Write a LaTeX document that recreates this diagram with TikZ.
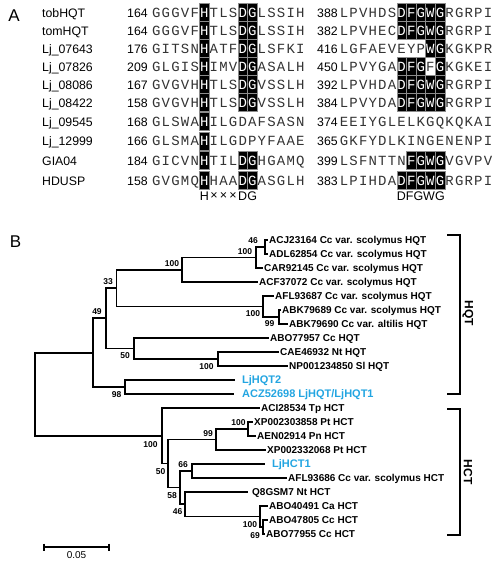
\documentclass[tikz,border=0pt]{standalone}
\usepackage{fontspec}
\setmainfont{Liberation Sans}
\newfontfamily\seqfont{Liberation Mono}
\definecolor{ljblue}{RGB}{35,165,225}
% sequence rows: lowercase letters are printed white on a black box
\newcommand\seqrow[3]{\def\sqx{#1}\def\sqy{#2}\def\sqi{0}\sqloop#3\relax}
\newcommand\sqloop[1]{\ifx#1\relax\else\ifnum`#1>96 \sqbox{#1}\else\sqput{#1}\fi\expandafter\sqloop\fi}
\newcommand\sqput[1]{\node[seqch] at ({\sqx+(\sqi+0.5)*9.6},{\sqy}) {#1};\pgfmathtruncatemacro\sqi{\sqi+1}}
\newcommand\sqbox[1]{\filldraw[boxst] ({\sqx+\sqi*9.6},{\sqy-14.25}) rectangle ({\sqx+(\sqi+1)*9.6},{\sqy+4});
  \node[seqch,text=white] at ({\sqx+(\sqi+0.5)*9.6},{\sqy}) {\uppercase{#1}};\pgfmathtruncatemacro\sqi{\sqi+1}}
\newcommand\arow[7]{%
  \node[nm] (nm#1) at (42,#2+4.5) {#3};
  \node[nm] (na#1) at (127,#2+4.5) {#4};
  \seqrow{151.5}{#2+4.5}{#5}
  \node[nm] (nb#1) at (317,#2+4.5) {#6};
  \seqrow{339.2}{#2+4.5}{#7}}
\begin{document}
\begin{tikzpicture}[x=1pt,y=-1pt,
  nm/.style={anchor=base west,inner sep=0pt,font=\fontsize{12.3}{14}\selectfont},
  seqch/.style={anchor=base,inner sep=0pt,font=\seqfont\fontsize{14}{16}\selectfont,text=black!80},
  boxst/.style={fill=black,draw=black!45,line width=0.3pt},
  motif/.style={inner sep=0pt,font=\fontsize{12.5}{14}\selectfont},
  panel/.style={inner sep=0pt,font=\fontsize{17}{19}\selectfont},
  branch/.style={line width=1.7pt},
  brk/.style={line width=1.2pt},
  boot/.style={inner sep=0pt,font=\bfseries\fontsize{8.5}{9}\selectfont},
  leaf/.style={anchor=west,inner ysep=0pt,inner xsep=1pt,text height=7.2pt,text depth=0pt,font=\bfseries\fontsize{10}{12}\selectfont},
  lj/.style={leaf,text=ljblue,text height=7.9pt,font=\bfseries\fontsize{11}{13}\selectfont},
  clade/.style={inner sep=0pt,rotate=-90,font=\bfseries\fontsize{12}{14}\selectfont}]
\useasboundingbox (0,0) rectangle (500,567);
% ---------------- Panel A ----------------
\node[panel] (pA) at (14,16) {A};
\arow{1}{13}{tobHQT}{164}{GGGVFhTLSdgLSSIH}{388}{LPVHDSdfgwgRGRPI}
\arow{2}{31}{tomHQT}{164}{GGGVFhTLSdgLSSIH}{382}{LPVHECdfgwgRGRPI}
\arow{3}{49}{Lj\_07643}{176}{GITSNhATFdgLSFKI}{416}{LGFAEVEYPwgKGKPR}
\arow{4}{67}{Lj\_07826}{209}{GLGIShIMVdgASALH}{450}{LPVYGAdfgFgKGKEI}
\arow{5}{85}{Lj\_08086}{167}{GVGVHhTLSdgVSSLH}{392}{LPVHDAdfgwgRGRPI}
\arow{6}{103}{Lj\_08422}{158}{GVGVHhTLSdgVSSLH}{384}{LPVYDAdfgwgRGRPI}
\arow{7}{122}{Lj\_09545}{168}{GLSWAhILGDAFSASN}{374}{EEIYGLELKGQKQKAI}
\arow{8}{141.5}{Lj\_12999}{166}{GLSMAhILGDPYFAAE}{365}{GKFYDLKINGENENPI}
\arow{9}{161}{GIA04}{184}{GICVNhTILdgHGAMQ}{399}{LSFNTTNfgwgVGVPV}
\arow{10}{181}{HDUSP}{158}{GVGMQhHAAdgASGLH}{383}{LPIHDAdfgwgRGRPI}
% motif labels
\node[motif] (m1) at ({151.5+5.5*9.6},196.5) {H};
\node[motif] (m2) at ({151.5+6.5*9.6},196.5) {×};
\node[motif] (m3) at ({151.5+7.5*9.6},196.5) {×};
\node[motif] (m4) at ({151.5+8.5*9.6},196.5) {×};
\node[motif] (m5) at ({151.5+9.5*9.6},196.5) {D};
\node[motif] (m6) at ({151.5+10.5*9.6},196.5) {G};
\node[motif] (m7) at ({339.2+8.5*9.6},196.5) {DFGWG};
% ---------------- Panel B ----------------
\node[panel] (pB) at (15.5,241.5) {B};
\coordinate (root) at (35,394.3);
\coordinate (n49) at (93,352.7);
\coordinate (n33) at (106,318.3);
\coordinate (nB) at (116.5,288.1);
\coordinate (n100a) at (182,269.75);
\coordinate (n100b) at (256,257.5);
\coordinate (n46a) at (265,247);
\coordinate (n100c) at (263,306.5);
\coordinate (n99a) at (279,317);
\coordinate (n50a) at (134,348.5);
\coordinate (n100d) at (218,359);
\coordinate (n98) at (125,387);
\coordinate (n100H) at (162,435.9);
\coordinate (n50H) at (168,463.6);
\coordinate (n99H) at (216,439.5);
\coordinate (n100H2) at (248,429);
\coordinate (n58) at (180,487.6);
\coordinate (n66) at (192,471);
\coordinate (n46H) at (185,504.25);
\coordinate (n100A) at (260,516.5);
\coordinate (n69) at (263,527);
% leaves
\node[leaf] (L1) at (268,240) {ACJ23164 Cc var. scolymus HQT};
\node[leaf] (L2) at (268,254) {ADL62854 Cc var. scolymus HQT};
\node[leaf] (L3) at (263,268) {CAR92145 Cc var. scolymus HQT};
\node[leaf] (L4) at (258,282) {ACF37072 Cc var. scolymus HQT};
\node[leaf] (L5) at (274,296) {AFL93687 Cc var. scolymus HQT};
\node[leaf] (L6) at (281,310) {ABK79689 Cc var. scolymus HQT};
\node[leaf] (L7) at (288,324) {ABK79690 Cc var. altilis HQT};
\node[leaf] (L8) at (269,338) {ABO77957 Cc HQT};
\node[leaf] (L9) at (279,352) {CAE46932 Nt HQT};
\node[leaf] (L10) at (288,366) {NP001234850 Sl HQT};
\node[lj] (L11) at (241,380) {LjHQT2};
\node[lj] (L12) at (241,394) {ACZ52698 LjHQT/LjHQT1};
\node[leaf] (L13) at (260,408) {ACI28534 Tp HCT};
\node[leaf] (L14) at (253,422) {XP002303858 Pt HCT};
\node[leaf] (L15) at (256,436) {AEN02914 Pn HCT};
\node[leaf] (L16) at (266,450) {XP002332068 Pt HCT};
\node[lj] (L17) at (271,464) {LjHCT1};
\node[leaf] (L18) at (287,478) {AFL93686 Cc var. scolymus HCT};
\node[leaf] (L19) at (251,492) {Q8GSM7 Nt HCT};
\node[leaf] (L20) at (268,506) {ABO40491 Ca HCT};
\node[leaf] (L21) at (268,520) {ABO47805 Cc HCT};
\node[leaf] (L22) at (265,534) {ABO77955 Cc HCT};
% branches
\draw[branch] (root) |- (n49);
\draw[branch] (root) |- (n100H);
\draw[branch] (n49) |- (n33);
\draw[branch] (n49) |- (n98);
\draw[branch] (n33) |- (nB);
\draw[branch] (n33) |- (n50a);
\draw[branch] (nB) |- (n100a);
\draw[branch] (nB) |- (n100c);
\draw[branch] (n100a) |- (n100b);
\draw[branch] (n100a) |- (L4.west);
\draw[branch] (n100b) |- (n46a);
\draw[branch] (n100b) |- (L3.west);
\draw[branch] (n46a) |- (L1.west);
\draw[branch] (n46a) |- (L2.west);
\draw[branch] (n100c) |- (L5.west);
\draw[branch] (n100c) |- (n99a);
\draw[branch] (n99a) |- (L6.west);
\draw[branch] (n99a) |- (L7.west);
\draw[branch] (n50a) |- (L8.west);
\draw[branch] (n50a) |- (n100d);
\draw[branch] (n100d) |- (L9.west);
\draw[branch] (n100d) |- (L10.west);
\draw[branch,shorten >=6pt] (n98) |- (L11.west);
\draw[branch,shorten >=7pt] (n98) |- (L12.west);
\draw[branch] (n100H) |- (L13.west);
\draw[branch] (n100H) |- (n50H);
\draw[branch] (n50H) |- (n99H);
\draw[branch] (n50H) |- (n58);
\draw[branch] (n99H) |- (n100H2);
\draw[branch] (n99H) |- (L16.west);
\draw[branch] (n100H2) |- (L14.west);
\draw[branch] (n100H2) |- (L15.west);
\draw[branch] (n58) |- (n66);
\draw[branch] (n58) |- (n46H);
\draw[branch,shorten >=6pt] (n66) |- (L17.west);
\draw[branch] (n66) |- (L18.west);
\draw[branch,shorten >=3pt] (n46H) |- (L19.west);
\draw[branch] (n46H) |- (n100A);
\draw[branch] (n100A) |- (L20.west);
\draw[branch] (n100A) |- (n69);
\draw[branch] (n69) |- (L21.west);
\draw[branch] (n69) |- (L22.west);
% bootstrap values
\node[boot] (b1) at (253,240.5) {46};
\node[boot] (b2) at (245,252) {100};
\node[boot] (b3) at (172,264) {100};
\node[boot] (b4) at (108,282) {33};
\node[boot] (b5) at (97,312) {49};
\node[boot] (b6) at (253,313.5) {100};
\node[boot] (b7) at (269.5,324) {99};
\node[boot] (b8) at (125,356) {50};
\node[boot] (b9) at (206.5,366.5) {100};
\node[boot] (b10) at (116.5,394.5) {98};
\node[boot] (b11) at (150.5,444.5) {100};
\node[boot] (b12) at (208,434) {99};
\node[boot] (b13) at (238.5,423) {100};
\node[boot] (b14) at (160.5,471.5) {50};
\node[boot] (b15) at (183,465) {66};
\node[boot] (b16) at (172,496) {58};
\node[boot] (b17) at (177.5,511.5) {46};
\node[boot] (b18) at (250,525) {100};
\node[boot] (b19) at (255,535.5) {69};
% clade brackets
\coordinate (q1) at (447,235); \coordinate (q2) at (460,235);
\coordinate (q3) at (460,394); \coordinate (q4) at (447,394);
\draw[brk] (q1) -- (q2) -- (q3) -- (q4);
\node[clade] (hqt) at (468,313) {HQT};
\coordinate (c1) at (447,409); \coordinate (c2) at (460,409);
\coordinate (c3) at (460,535); \coordinate (c4) at (447,535);
\draw[brk] (c1) -- (c2) -- (c3) -- (c4);
\node[clade] (hct) at (468,472) {HCT};
% scale bar
\coordinate (s1) at (44,547); \coordinate (s2) at (109,547);
\draw[brk] (s1) -- (s2);
\draw[brk] ([yshift=3.5pt]s1) -- ([yshift=-3.5pt]s1);
\draw[brk] ([yshift=3.5pt]s2) -- ([yshift=-3.5pt]s2);
\node[inner sep=0pt,font=\fontsize{10}{12}\selectfont] (sbl) at (76.5,555.5) {0.05};
\end{tikzpicture}
\end{document}
